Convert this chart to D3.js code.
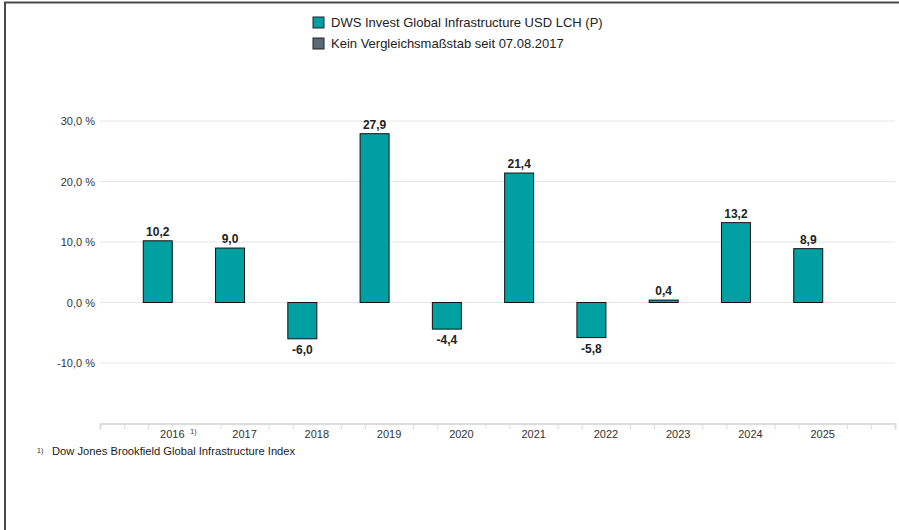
<!DOCTYPE html>
<html>
<head>
<meta charset="utf-8">
<script src="https://cdn.jsdelivr.net/npm/d3@7"></script>
<style>
  body { margin: 0; background: #fff; }
  text { font-family: "Liberation Sans", Arial, sans-serif; }
</style>
</head>
<body>
<div id="chart"></div>
<script>
var width = 899, height = 530;

var years = [2016, 2017, 2018, 2019, 2020, 2021, 2022, 2023, 2024, 2025];
var fundValues = [10.2, 9.0, -6.0, 27.9, -4.4, 21.4, -5.8, 0.4, 13.2, 8.9];
var yTicks = [-10, 0, 10, 20, 30];
var legendLabels = ['DWS Invest Global Infrastructure USD LCH (P)', 'Kein Vergleichsmaßstab seit 07.08.2017'];
var legendColors = ['#00a0a2', '#5b6b76'];
var footnote = 'Dow Jones Brookfield Global Infrastructure Index';

// german number format with plain hyphen
var fmt = function(v){ return d3.format('.1f')(v).replace('.', ',').replace('\u2212', '-'); };

var svg = d3.select('#chart')
    .append('svg')
    .attr('width', width)
    .attr('height', height);

// frame
svg.append('path')
    .attr('d', 'M5,530 V2.5 H899')
    .attr('fill', 'none')
    .attr('stroke', '#4a4a4a')
    .attr('stroke-width', 2);

var xScale = d3.scaleLinear()
    .domain([2015, 2026])
    .range([100, 895]);

var yScale = d3.scaleLinear()
    .domain([-20, 30])
    .range([423.5, 121]);

// grid lines
svg.selectAll('.grid')
    .data(yTicks)
    .enter()
    .append('line')
    .attr('class', 'grid')
    .attr('x1', 100).attr('x2', 895)
    .attr('y1', function(d){ return yScale(d); })
    .attr('y2', function(d){ return yScale(d); })
    .attr('stroke', '#e6e6e6')
    .attr('stroke-width', 1);

svg.selectAll('.ylab')
    .data(yTicks)
    .enter()
    .append('text')
    .attr('class', 'ylab')
    .attr('x', 95)
    .attr('y', function(d){ return yScale(d) + 4; })
    .attr('text-anchor', 'end')
    .attr('font-size', 11)
    .attr('fill', '#333')
    .text(function(d){ return fmt(d) + ' %'; });

// x axis with minor ticks every third of a year
var xAxis = d3.axisBottom(xScale)
    .tickValues(d3.range(0, 34).map(function(i){ return 2015 + i / 3; }))
    .tickSize(6)
    .tickFormat('');

var gx = svg.append('g')
    .attr('transform', 'translate(0,' + yScale(-20) + ')')
    .call(xAxis);
gx.select('.domain').attr('stroke', '#dcdcdc').attr('stroke-width', 2);
gx.selectAll('.tick line').attr('stroke', '#dcdcdc');

// year labels with white background hiding ticks
var xl = svg.selectAll('.xlab')
    .data(years)
    .enter()
    .append('g')
    .attr('class', 'xlab')
    .attr('transform', function(d){ return 'translate(' + xScale(d) + ',' + (yScale(-20) + 10.5) + ')'; });
xl.append('rect')
    .attr('x', -15)
    .attr('width', function(d){ return d === 2016 ? 45 : 30; })
    .attr('y', -8).attr('height', 14)
    .attr('fill', '#fff');
xl.append('text')
    .attr('text-anchor', 'middle')
    .attr('font-size', 11)
    .attr('fill', '#333')
    .attr('y', 4)
    .text(function(d){ return d; });
xl.filter(function(d){ return d === 2016; })
    .append('text')
    .attr('x', 18)
    .attr('y', 0)
    .attr('font-size', 7)
    .attr('fill', '#333')
    .text('1)');

// bars
var barW = 29;
svg.selectAll('.bar')
    .data(fundValues)
    .enter()
    .append('rect')
    .attr('class', 'bar')
    .attr('x', function(d, i){ return xScale(years[i]) - barW; })
    .attr('width', barW)
    .attr('y', function(d){ return yScale(Math.max(0, d)); })
    .attr('height', function(d){ return Math.abs(yScale(d) - yScale(0)); })
    .attr('fill', legendColors[0])
    .attr('stroke', '#111')
    .attr('stroke-width', 1);

svg.selectAll('.val')
    .data(fundValues)
    .enter()
    .append('text')
    .attr('class', 'val')
    .attr('x', function(d, i){ return xScale(years[i]) - barW / 2; })
    .attr('y', function(d){ return d >= 0 ? yScale(d) - 5 : yScale(d) + 15; })
    .attr('text-anchor', 'middle')
    .attr('font-size', 12)
    .attr('font-weight', 'bold')
    .attr('fill', '#222')
    .text(function(d){ return fmt(d); });

// legend
var lg = svg.selectAll('.leg')
    .data(legendLabels)
    .enter()
    .append('g')
    .attr('class', 'leg')
    .attr('transform', function(d, i){ return 'translate(313,' + (17 + i * 21) + ')'; });
lg.append('rect')
    .attr('width', 11).attr('height', 11)
    .attr('fill', function(d, i){ return legendColors[i]; })
    .attr('stroke', '#222');
lg.append('text')
    .attr('x', 18)
    .attr('y', 10)
    .attr('font-size', 13)
    .attr('fill', '#222')
    .text(function(d){ return d; });

// footnote
svg.append('text')
    .attr('x', 37).attr('y', 453)
    .attr('font-size', 7)
    .attr('fill', '#222')
    .text('1)');
svg.append('text')
    .attr('x', 52).attr('y', 455)
    .attr('font-size', 11.2)
    .attr('fill', '#222')
    .text(footnote);
</script>
</body>
</html>
